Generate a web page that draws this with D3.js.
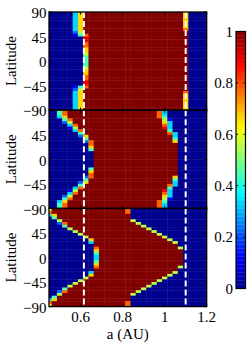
<!DOCTYPE html>
<html>
<head>
<meta charset="utf-8">
<script src="https://cdn.jsdelivr.net/npm/d3@7"></script>
<style>
body { margin: 0; background: #fff; }
text { font-family: "Liberation Serif", "Times New Roman", serif; font-size: 15px; fill: #000; }
</style>
</head>
<body>
<svg id="chart" width="249" height="343"></svg>
<script>
// semi-major axis of each column (AU)
var aValues = [0.45, 0.475, 0.5, 0.525, 0.55, 0.575, 0.6, 0.625, 0.65, 0.675, 0.7, 0.725, 0.75, 0.775,
  0.8, 0.825, 0.85, 0.875, 0.9, 0.925, 0.95, 0.975, 1.0, 1.025, 1.05, 1.075, 1.1, 1.125, 1.15, 1.175, 1.2];
// latitude of each row (deg)
var latValues = [87.5, 82.5, 77.5, 72.5, 67.5, 62.5, 57.5, 52.5, 47.5, 42.5, 37.5, 32.5, 27.5, 22.5, 17.5, 12.5, 7.5, 2.5,
  -2.5, -7.5, -12.5, -17.5, -22.5, -27.5, -32.5, -37.5, -42.5, -47.5, -52.5, -57.5, -62.5, -67.5, -72.5, -77.5, -82.5, -87.5];

// fraction per cell, one digit per column (0 -> 0, 9 -> 1), one string per row
var panel1Rows = [
  "00000 36999 99999 99999 99999 96000 0",
  "00000 36999 99999 99999 99999 96000 0",
  "00000 36999 99999 99999 99999 96000 0",
  "00000 36999 99999 99999 99999 96000 0",
  "00000 36999 99999 99999 99999 96000 0",
  "00000 36999 99999 99999 99999 96000 0",
  "00000 36999 99999 99999 99999 97000 0",
  "00000 25999 99999 99999 99999 99000 0",
  "00000 14799 99999 99999 99999 99000 0",
  "00000 00899 99999 99999 99999 99000 0",
  "00000 00899 99999 99999 99999 99000 0",
  "00000 00799 99999 99999 99999 99000 0",
  "00000 00799 99999 99999 99999 99000 0",
  "00000 00699 99999 99999 99999 99000 0",
  "00000 00699 99999 99999 99999 99000 0",
  "00000 00599 99999 99999 99999 99000 0",
  "00000 00499 99999 99999 99999 99000 0",
  "00000 00499 99999 99999 99999 99000 0",
  "00000 00499 99999 99999 99999 99000 0",
  "00000 00499 99999 99999 99999 99000 0",
  "00000 00599 99999 99999 99999 99000 0",
  "00000 00699 99999 99999 99999 99000 0",
  "00000 00699 99999 99999 99999 99000 0",
  "00000 00799 99999 99999 99999 99000 0",
  "00000 00799 99999 99999 99999 99000 0",
  "00000 00899 99999 99999 99999 99000 0",
  "00000 00899 99999 99999 99999 99000 0",
  "00000 14799 99999 99999 99999 99000 0",
  "00000 25999 99999 99999 99999 99000 0",
  "00000 36999 99999 99999 99999 97000 0",
  "00000 36999 99999 99999 99999 96000 0",
  "00000 36999 99999 99999 99999 96000 0",
  "00000 36999 99999 99999 99999 96000 0",
  "00000 36999 99999 99999 99999 96000 0",
  "00000 36999 99999 99999 99999 96000 0",
  "00000 36999 99999 99999 99999 96000 0"
];

var panel2Rows = [
  "00479 99999 99999 99999 97300 00000 0",
  "00479 99999 99999 99999 97300 00000 0",
  "00369 99999 99999 99999 97400 00000 0",
  "00047 99999 99999 99999 99510 00000 0",
  "00025 99999 99999 99999 99630 00000 0",
  "00003 79999 99999 99999 99730 00000 0",
  "00001 59999 99999 99999 99830 00000 0",
  "00000 37999 99999 99999 99940 00000 0",
  "00000 04999 99999 99999 99973 00000 0",
  "00000 02699 99999 99999 99993 00000 0",
  "00000 00499 99999 99999 99994 00000 0",
  "00000 00279 99999 99999 99996 00000 0",
  "00000 00079 99999 99999 99999 00000 0",
  "00000 00069 99999 99999 99999 00000 0",
  "00000 00049 99999 99999 99999 00000 0",
  "00000 00009 99999 99999 99999 00000 0",
  "00000 00009 99999 99999 99999 00000 0",
  "00000 00009 99999 99999 99999 00000 0",
  "00000 00009 99999 99999 99999 00000 0",
  "00000 00009 99999 99999 99999 00000 0",
  "00000 00009 99999 99999 99999 00000 0",
  "00000 00049 99999 99999 99999 00000 0",
  "00000 00069 99999 99999 99999 00000 0",
  "00000 00079 99999 99999 99999 00000 0",
  "00000 00279 99999 99999 99996 00000 0",
  "00000 00499 99999 99999 99994 00000 0",
  "00000 02699 99999 99999 99993 00000 0",
  "00000 04999 99999 99999 99973 00000 0",
  "00000 37999 99999 99999 99940 00000 0",
  "00001 59999 99999 99999 99830 00000 0",
  "00003 79999 99999 99999 99730 00000 0",
  "00025 99999 99999 99999 99630 00000 0",
  "00047 99999 99999 99999 99510 00000 0",
  "00369 99999 99999 99999 97400 00000 0",
  "00479 99999 99999 99999 97300 00000 0",
  "00479 99999 99999 99999 97300 00000 0"
];

var panel3Rows = [
  "59999 99999 99999 70000 00000 00000 0",
  "79999 99999 99999 70000 00000 00000 0",
  "36999 99999 99999 90000 00000 00000 0",
  "04999 99999 99999 90000 00000 00000 0",
  "00599 99999 99999 95000 00000 00000 0",
  "00279 99999 99999 99500 00000 00000 0",
  "00049 99999 99999 99950 00000 00000 0",
  "00005 99999 99999 99995 00000 00000 0",
  "00000 59999 99999 99999 50000 00000 0",
  "00000 05999 99999 99999 95000 00000 0",
  "00000 00599 99999 99999 99500 00000 0",
  "00000 00069 99999 99999 99950 00000 0",
  "00000 00039 99999 99999 99995 00000 0",
  "00000 00009 99999 99999 99999 00000 0",
  "00000 00007 99999 99999 99999 50000 0",
  "00000 00006 99999 99999 99999 90000 0",
  "00000 00004 99999 99999 99999 90000 0",
  "00000 00003 99999 99999 99999 90000 0",
  "00000 00003 99999 99999 99999 90000 0",
  "00000 00004 99999 99999 99999 90000 0",
  "00000 00006 99999 99999 99999 90000 0",
  "00000 00007 99999 99999 99999 50000 0",
  "00000 00009 99999 99999 99999 00000 0",
  "00000 00039 99999 99999 99995 00000 0",
  "00000 00069 99999 99999 99950 00000 0",
  "00000 00599 99999 99999 99500 00000 0",
  "00000 05999 99999 99999 95000 00000 0",
  "00000 59999 99999 99999 50000 00000 0",
  "00005 99999 99999 99995 00000 00000 0",
  "00049 99999 99999 99950 00000 00000 0",
  "00279 99999 99999 99500 00000 00000 0",
  "00599 99999 99999 95000 00000 00000 0",
  "04999 99999 99999 90000 00000 00000 0",
  "36999 99999 99999 90000 00000 00000 0",
  "79999 99999 99999 70000 00000 00000 0",
  "59999 99999 99999 70000 00000 00000 0"
];

var dashedA = [0.616, 1.1];
var xTicks = [0.6, 0.8, 1, 1.2];
var xTickLabels = ["0.6", "0.8", "1", "1.2"];
var yTicks = [90, 45, 0, -45, -90];
var yTickLabels = ["90", "45", "0", "\u221245", "\u221290"];
var cbarTicks = [0, 0.2, 0.4, 0.6, 0.8, 1];
var cbarTickLabels = ["0", "0.2", "0.4", "0.6", "0.8", "1"];

var plotLeft = 49, plotRight = 206.7, plotTop = 12, panelH = 98.2;
var cbX = 236, cbW = 9.5, cbTop = 31.5, cbBottom = 288.5;

// matlab jet
var jet = d3.scaleLinear()
  .domain([0, 1/8, 3/8, 5/8, 7/8, 1])
  .range(["rgb(0,0,143)", "rgb(0,0,255)", "rgb(0,255,255)", "rgb(255,255,0)", "rgb(255,0,0)", "rgb(128,0,0)"]);

var x = d3.scaleLinear().domain([0.45, 1.2]).range([plotLeft, plotRight]);
var svg = d3.select("#chart");
var halfA = 0.0125, halfLat = 2.5;

var panels = [panel1Rows, panel2Rows, panel3Rows];

panels.forEach(function(rows, p) {
  var top = plotTop + p * panelH;
  var y = d3.scaleLinear().domain([-90, 90]).range([top + panelH, top]);

  var cells = [];
  rows.forEach(function(str, r) {
    var s = str.replace(/ /g, "");
    for (var k = 0; k < s.length; k++)
      cells.push({a: aValues[k], lat: latValues[r], v: +s[k] / 9});
  });

  svg.append("clipPath").attr("id", "clip" + p)
    .append("rect")
    .attr("x", plotLeft).attr("y", top)
    .attr("width", plotRight - plotLeft).attr("height", panelH);

  var g = svg.append("g").attr("clip-path", "url(#clip" + p + ")");

  g.selectAll("rect")
    .data(cells)
    .enter()
    .append("rect")
    .attr("x", d => x(d.a - halfA))
    .attr("y", d => y(d.lat + halfLat))
    .attr("width", d => x(d.a + halfA) - x(d.a - halfA) + 0.4)
    .attr("height", d => y(d.lat - halfLat) - y(d.lat + halfLat) + 0.4)
    .attr("fill", d => jet(d.v));

  // white dashed lines
  g.selectAll("line.dash")
    .data(dashedA)
    .enter()
    .append("line")
    .attr("class", "dash")
    .attr("x1", d => x(d)).attr("x2", d => x(d))
    .attr("y1", top).attr("y2", top + panelH)
    .attr("stroke", "#fff")
    .attr("stroke-width", 2)
    .attr("stroke-dasharray", "6,3");

  // ticks inside the box
  xTicks.forEach(function(t) {
    svg.append("line").attr("x1", x(t)).attr("x2", x(t)).attr("y1", top).attr("y2", top + 2.5)
      .attr("stroke", "#000").attr("stroke-width", 1);
    svg.append("line").attr("x1", x(t)).attr("x2", x(t)).attr("y1", top + panelH).attr("y2", top + panelH - 2.5)
      .attr("stroke", "#000").attr("stroke-width", 1);
  });
  yTicks.forEach(function(t) {
    svg.append("line").attr("x1", plotLeft).attr("x2", plotLeft + 2.5).attr("y1", y(t)).attr("y2", y(t))
      .attr("stroke", "#000").attr("stroke-width", 1);
    svg.append("line").attr("x1", plotRight).attr("x2", plotRight - 2.5).attr("y1", y(t)).attr("y2", y(t))
      .attr("stroke", "#000").attr("stroke-width", 1);
  });

  svg.append("rect")
    .attr("x", plotLeft).attr("y", top)
    .attr("width", plotRight - plotLeft).attr("height", panelH)
    .attr("fill", "none")
    .attr("stroke", "#000")
    .attr("stroke-width", 1.3);

  // y labels, top "90" only on first panel
  var labs = yTicks.map((t, i) => [t, yTickLabels[i]]).filter(d => p == 0 || d[0] != 90);
  svg.selectAll(null)
    .data(labs)
    .enter()
    .append("text")
    .attr("x", 46.5)
    .attr("y", d => y(d[0]) + 1)
    .attr("dy", "0.35em")
    .attr("text-anchor", "end")
    .text(d => d[1]);

  svg.append("text")
    .attr("transform", "translate(16," + (top + panelH / 2) + ") rotate(-90)")
    .attr("text-anchor", "middle")
    .text("Latitude");
});

// x axis labels under the last panel
var bottom = plotTop + 3 * panelH;
svg.selectAll(null)
  .data(xTicks)
  .enter()
  .append("text")
  .attr("x", d => x(d))
  .attr("y", bottom + 15)
  .attr("text-anchor", "middle")
  .text((d, i) => xTickLabels[i]);

svg.append("text")
  .attr("x", (plotLeft + plotRight) / 2)
  .attr("y", bottom + 32.2)
  .attr("text-anchor", "middle")
  .text("a (AU)");

//**************************************************************
// colorbar

var cy = d3.scaleLinear().domain([0, 1]).range([cbBottom, cbTop]);
var nBands = 64;
svg.selectAll("rect.band")
  .data(d3.range(nBands))
  .enter()
  .append("rect")
  .attr("class", "band")
  .attr("x", cbX)
  .attr("y", d => cy((d + 1) / nBands))
  .attr("width", cbW)
  .attr("height", cy(0) - cy(1 / nBands) + 0.3)
  .attr("fill", d => jet((d + 0.5) / nBands));

svg.append("rect")
  .attr("x", cbX).attr("y", cbTop)
  .attr("width", cbW).attr("height", cbBottom - cbTop)
  .attr("fill", "none").attr("stroke", "#000").attr("stroke-width", 1.2);

cbarTicks.forEach(function(t, i) {
  svg.append("line").attr("x1", cbX).attr("x2", cbX + 2).attr("y1", cy(t)).attr("y2", cy(t))
    .attr("stroke", "#000");
  svg.append("line").attr("x1", cbX + cbW).attr("x2", cbX + cbW - 2).attr("y1", cy(t)).attr("y2", cy(t))
    .attr("stroke", "#000");
  svg.append("text")
    .attr("x", 233)
    .attr("y", cy(t))
    .attr("dy", "0.35em")
    .attr("text-anchor", "end")
    .text(cbarTickLabels[i]);
});
</script>
</body>
</html>
